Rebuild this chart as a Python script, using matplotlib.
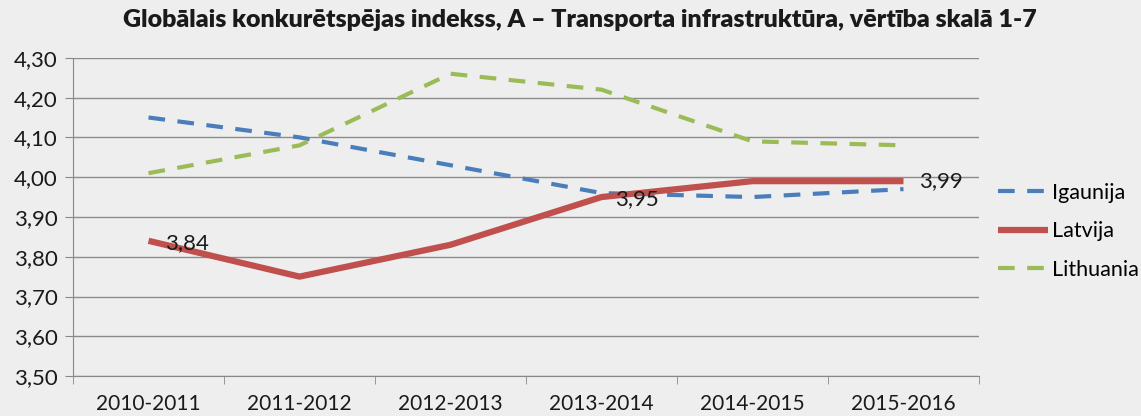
import matplotlib.pyplot as plt
from matplotlib.ticker import FixedLocator, FuncFormatter

periods = ["2010-2011", "2011-2012", "2012-2013", "2013-2014", "2014-2015", "2015-2016"]
igaunija = [4.15, 4.10, 4.03, 3.96, 3.95, 3.97]
latvija = [3.84, 3.75, 3.83, 3.95, 3.99, 3.99]
lithuania = [4.01, 4.08, 4.26, 4.22, 4.09, 4.08]
labelled = {0: "3,84", 3: "3,95", 5: "3,99"}

plt.rcParams['font.family'] = ['Lato', 'DejaVu Sans']
bg = "#eeeeee"
ink = "#1a1a1a"
fig = plt.figure(figsize=(11.41, 4.16), dpi=100, facecolor=bg)
ax = fig.add_axes([0.064, 0.096, 0.794, 0.765], facecolor=bg)

x = list(range(len(periods)))
ax.plot(x, igaunija, color="#4a7ebb", lw=3, dashes=(4, 3), label="Igaunija")
ax.plot(x, latvija, color="#c0504d", lw=4.5, solid_capstyle="butt", label="Latvija")
ax.plot(x, lithuania, color="#9bbb59", lw=3, dashes=(4, 3), label="Lithuania")

offsets = {0: (0.11, -0.005), 3: (0.09, -0.005), 5: (0.1, 0.0)}
for i, txt in labelled.items():
    dx, dy = offsets[i]
    ax.text(x[i] + dx, latvija[i] + dy, txt, fontsize=16, ha="left", va="center", color=ink)

ax.set_xlim(-0.5, len(periods) - 0.5)
ax.set_ylim(3.5, 4.3)
ax.yaxis.set_major_locator(FixedLocator([3.5 + 0.1 * k for k in range(9)]))
ax.yaxis.set_major_formatter(FuncFormatter(lambda v, p: f"{v:.2f}".replace(".", ",")))
ax.set_xticks(x)
ax.set_xticklabels(periods)
ax.xaxis.set_minor_locator(FixedLocator([k - 0.5 for k in range(len(periods) + 1)]))
ax.tick_params(axis="x", which="major", length=0, labelsize=15, pad=13, colors=ink)
ax.tick_params(axis="x", which="minor", length=6, color="#888888")
ax.tick_params(axis="y", length=6, labelsize=16, colors=ink, color="#888888", pad=5)

ax.grid(axis="y", color="#8c8c8c", lw=1)
ax.set_axisbelow(True)
for s in ["top", "right"]:
    ax.spines[s].set_visible(False)
ax.spines["left"].set_color("#888888")
ax.spines["bottom"].set_color("#888888")

fig.suptitle("Globālais konkurētspējas indekss, A – Transporta infrastruktūra, vērtība skalā 1-7",
             x=0.508, y=0.978, fontsize=18, fontweight="heavy", color=ink)

leg = ax.legend(loc="center left", bbox_to_anchor=(1.0, 0.455), frameon=False,
                fontsize=15.5, handlelength=2.3, handletextpad=0.2, labelspacing=0.85)

fig.savefig("out.png", dpi=100, facecolor=bg)
